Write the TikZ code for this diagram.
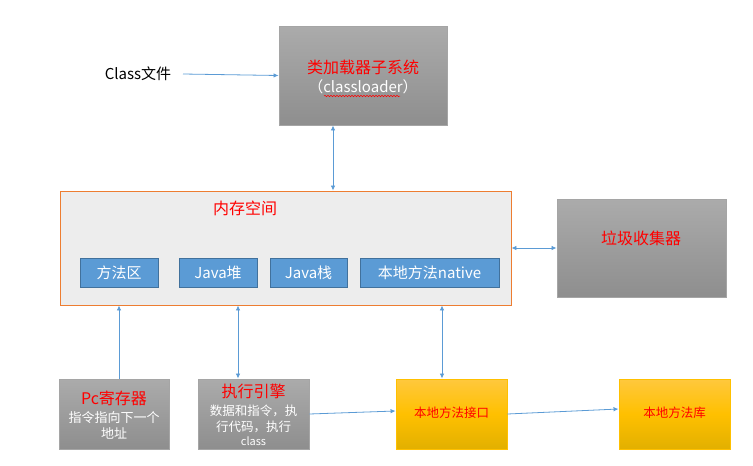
\documentclass[tikz,border=0pt]{standalone}
\usepackage{fontspec}
\setmainfont{Noto Sans CJK SC}
\usetikzlibrary{arrows.meta,decorations.pathmorphing}
\definecolor{arrblue}{HTML}{5B9BD5}
\definecolor{bluefill}{HTML}{5B9BD5}
\definecolor{blueline}{HTML}{41719C}
\definecolor{orangeline}{HTML}{ED7D31}
\definecolor{memfill}{HTML}{EDEDED}
\definecolor{gtop}{HTML}{ABABAB}
\definecolor{gbot}{HTML}{8E8E8E}
\definecolor{gline}{HTML}{A5A5A5}
\definecolor{ytop}{HTML}{FFC83D}
\definecolor{ymid}{HTML}{FFC000}
\definecolor{ybot}{HTML}{E2B000}
\definecolor{yline}{HTML}{FFC000}
\definecolor{txtred}{HTML}{FF0000}
\tikzset{
  gbox/.style={rectangle, draw=gline, line width=0.9pt, top color=gtop, bottom color=gbot, inner sep=0pt},
  ybox/.style={rectangle, draw=yline, line width=0.9pt, top color=ytop, bottom color=ybot, middle color=ymid, inner sep=0pt},
  bbox/.style={rectangle, draw=blueline, line width=0.8pt, fill=bluefill, inner sep=0pt, minimum height=29pt, text=white, font=\fontsize{15}{17}\selectfont},
  membox/.style={rectangle, draw=orangeline, line width=0.9pt, fill=memfill, inner sep=0pt},
  redtxt/.style={text=txtred, inner sep=0pt, font=\fontsize{16}{18}\selectfont},
  whtxt/.style={text=white, inner sep=0pt, align=center, font=\fontsize{13}{16}\selectfont},
  arr/.style={draw=arrblue, line width=0.8pt, -{Latex[length=5pt,width=4.5pt]}},
  darr/.style={draw=arrblue, line width=0.8pt, {Latex[length=5pt,width=4.5pt]}-{Latex[length=5pt,width=4.5pt]}},
}
\begin{document}
\begin{tikzpicture}[x=1pt,y=-1pt]
\useasboundingbox (0,0) rectangle (753,466);
% top: class loader
\node[gbox, minimum width=168pt, minimum height=99pt] (cl) at (363,75.5) {};
\node[redtxt] (cltitle) at (363,67) {类加载器子系统};
\node[text=white, inner sep=0pt, font=\fontsize{15}{17}\selectfont] (clsub) at (363,87) {（classloader）};
\draw[txtred, line width=0.5pt, decorate, decoration={snake, amplitude=0.7pt, segment length=3pt}] (324,96) -- (400,96);
\node[inner sep=0pt, font=\fontsize{15}{17}\selectfont] (cf) at (138,74) {Class文件};
\coordinate (cfend) at (183,74);
\draw[arr] (cfend) -- (cl.west);
% memory
\node[membox, minimum width=451pt, minimum height=114pt] (mem) at (285.5,248) {};
\node[redtxt] (memtitle) at (245,208) {内存空间};
\node[bbox, minimum width=78pt] (ma) at (119,272.5) {方法区};
\node[bbox, minimum width=78pt] (heap) at (218,272.5) {Java堆};
\node[bbox, minimum width=77pt] (stack) at (308.5,272.5) {Java栈};
\node[bbox, minimum width=139pt] (nat) at (429.5,272.5) {本地方法native};
% GC
\node[gbox, minimum width=169pt, minimum height=98pt] (gc) at (641.5,248) {};
\node[redtxt] (gctitle) at (641,238) {垃圾收集器};
% bottom row
\node[gbox, minimum width=110pt, minimum height=70pt] (pc) at (114,414) {};
\node[redtxt] (pctitle) at (114,398) {Pc寄存器};
\node[whtxt] (pctext) at (114,425) {指令指向下一个\\地址};
\node[gbox, minimum width=111pt, minimum height=70pt] (ex) at (253.5,414) {};
\node[redtxt] (extitle) at (253.5,391) {执行引擎};
\node[whtxt, font=\fontsize{12.5}{15.5}\selectfont] (extext) at (253.5,419) {数据和指令，执\\行代码，执行};
\node[text=white, inner sep=0pt, font=\fontsize{11}{13}\selectfont] (exclass) at (253.5,441) {class};
\node[ybox, minimum width=111pt, minimum height=70pt] (nif) at (451.5,414) {};
\node[text=txtred, inner sep=0pt, font=\fontsize{12.5}{15}\selectfont] (niftext) at (451.5,413) {本地方法接口};
\node[ybox, minimum width=111pt, minimum height=70pt] (lib) at (674.5,414) {};
\node[text=txtred, inner sep=0pt, font=\fontsize{12.5}{15}\selectfont] (libtext) at (674.5,413) {本地方法库};
% connectors
\draw[darr] ([xshift=-30pt]cl.south) -- ([xshift=-30pt]cl.south |- mem.north);
\draw[darr] (mem.east) -- (gc.west);
\draw[arr] ([xshift=5pt]pc.north) -- ([xshift=5pt]pc.north |- mem.south);
\draw[darr] ([xshift=-15.5pt]ex.north) -- ([xshift=-15.5pt]ex.north |- mem.south);
\draw[darr] ([xshift=-9.5pt]nif.north) -- ([xshift=-9.5pt]nif.north |- mem.south);
\draw[arr] (ex.east) -- ([yshift=3pt]nif.west);
\draw[arr] (nif.east) -- ([yshift=5pt]lib.west);
\end{tikzpicture}
\end{document}
